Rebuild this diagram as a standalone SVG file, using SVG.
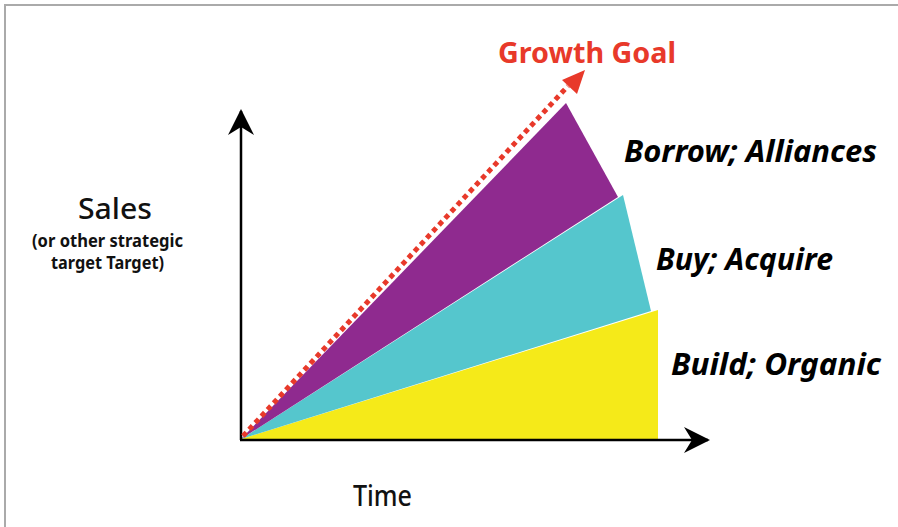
<svg xmlns="http://www.w3.org/2000/svg" width="898" height="527" viewBox="0 0 898 527">
<style>
.lbl{font-family:"Noto Sans","Open Sans",sans-serif;font-weight:bold;font-style:italic;font-size:30px;fill:#000}
.ax{font-family:"Noto Sans","Open Sans",sans-serif;fill:#111}
.axis{stroke:#000;stroke-width:2.5;fill:none}
</style>
<defs>
<marker id="blk" viewBox="0 0 26 26" refX="24" refY="13" markerWidth="26" markerHeight="26" markerUnits="userSpaceOnUse" orient="auto">
<path d="M0,0 L26,13 L0,26 L8,13 Z" fill="#000"/>
</marker>
</defs>
<rect x="0" y="0" width="898" height="527" fill="#fff"/>
<path d="M5,527 L5,5 L898,5" stroke="#aaa" stroke-width="2" fill="none"/>
<g id="build"><polygon points="241,439 658,310 658,439" fill="#f5ea19"/></g>
<g id="buy"><polygon points="241,439 623,195 651,311" fill="#55c6cd"/></g>
<g id="borrow"><polygon points="241,439 566,103 618,197" fill="#8f2a8f"/></g>
<g id="connectors">
<line class="axis" x1="241" y1="440" x2="241" y2="111" marker-end="url(#blk)"/>
<line class="axis" x1="240" y1="440" x2="708" y2="440" marker-end="url(#blk)"/>
<line x1="243" y1="436" x2="568" y2="86" stroke="#e8392a" stroke-width="5" stroke-dasharray="5 4"/>
<polygon points="585,70 562,80 577,94" fill="#e8392a"/>
</g>
<g id="growth-goal"><text x="498" y="63" font-family="'Noto Sans','Open Sans',sans-serif" font-weight="bold" font-size="28" fill="#e8392a" textLength="178" lengthAdjust="spacingAndGlyphs">Growth Goal</text></g>
<g id="label-borrow"><text class="lbl" x="624" y="162" textLength="253" lengthAdjust="spacingAndGlyphs">Borrow; Alliances</text></g>
<g id="label-buy"><text class="lbl" x="656" y="270" textLength="177" lengthAdjust="spacingAndGlyphs">Buy; Acquire</text></g>
<g id="label-build"><text class="lbl" x="671" y="375" textLength="210" lengthAdjust="spacingAndGlyphs">Build; Organic</text></g>
<g id="y-label">
<text class="ax" x="78" y="219" font-size="29" font-weight="500" textLength="74" lengthAdjust="spacingAndGlyphs">Sales</text>
<text class="ax" x="32" y="247" font-size="17" font-weight="bold" textLength="151" lengthAdjust="spacingAndGlyphs">(or other strategic</text>
<text class="ax" x="51" y="269" font-size="17" font-weight="bold" textLength="113" lengthAdjust="spacingAndGlyphs">target Target)</text>
</g>
<g id="x-label"><text class="ax" x="353" y="506" font-size="28" font-weight="500" textLength="59" lengthAdjust="spacingAndGlyphs">Time</text></g>
</svg>
